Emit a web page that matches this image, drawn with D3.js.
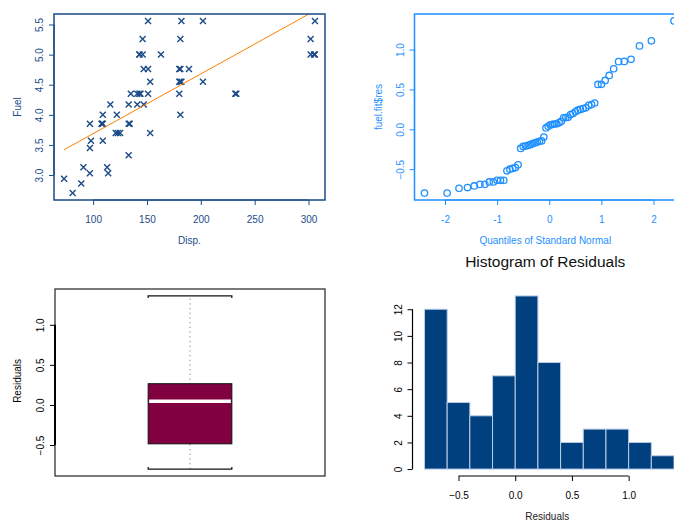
<!DOCTYPE html>
<html>
<head>
<meta charset="utf-8">
<script src="https://cdn.jsdelivr.net/npm/d3@7"></script>
<style>
  body { margin: 0; background: #fff; }
  svg { display: block; font-family: "Liberation Sans", Arial, sans-serif; }
</style>
</head>
<body>
<div id="chart"></div>
<script>
// fuel vs displacement
const disp = [73, 81, 89, 91, 97, 97, 98, 97, 108, 109, 109, 109, 113, 114, 116, 122, 121, 123, 125,
  133, 133, 134, 133, 135, 141, 143, 141, 147, 143, 146, 146, 147, 151, 151, 151, 153, 153, 163,
  180, 181, 180, 182, 180, 181, 181, 182, 189, 202, 202, 232, 233, 302, 302, 305, 306, 306,
  108, 144, 181, 143]
const fuel = [2.94, 2.70, 2.86, 3.13, 3.03, 3.45, 3.57, 3.85, 3.85, 3.85, 4.00, 3.57, 3.13, 3.03, 4.17, 4.00, 3.70, 3.70, 3.70,
  3.33, 3.85, 3.85, 4.17, 4.35, 4.35, 4.35, 4.17, 4.17, 5.00, 5.00, 5.26, 4.76, 4.76, 5.56, 4.35, 4.55, 3.70, 5.00,
  4.76, 4.76, 4.55, 4.55, 4.35, 4.00, 5.26, 5.56, 4.76, 5.56, 4.55, 4.35, 4.35, 5.26, 5.00, 5.00, 5.00, 5.56,
  3.85, 4.35, 4.55, 5.00]
// fitted line, endpoints at min / max Disp.
const fitX = [73, 306]
const fitY = [3.42, 5.73]

// residuals of the fit (sorted)
const residuals = [-0.80, -0.80, -0.74, -0.73, -0.71, -0.69, -0.69, -0.66, -0.66, -0.64, -0.64, -0.64,
  -0.52, -0.50, -0.49, -0.48, -0.445,
  -0.24, -0.215, -0.21, -0.202,
  -0.193, -0.18, -0.17, -0.16, -0.15, -0.145, -0.097,
  0.017, 0.038, 0.055, 0.063, 0.067, 0.07, 0.084, 0.10, 0.145, 0.147, 0.15, 0.185, 0.197,
  0.22, 0.24, 0.25, 0.26, 0.27, 0.30, 0.31, 0.33,
  0.563, 0.565,
  0.613, 0.676, 0.76,
  0.849, 0.852, 0.878,
  1.046, 1.11,
  1.36]

const scatterXTicks = [100, 150, 200, 250, 300]
const scatterYTicks = [3.0, 3.5, 4.0, 4.5, 5.0, 5.5]
const qqXTicks = [-2, -1, 0, 1, 2]
const resTicks = [-0.5, 0.0, 0.5, 1.0]
const histBreaks = [-0.8, -0.6, -0.4, -0.2, 0, 0.2, 0.4, 0.6, 0.8, 1.0, 1.2, 1.4]
const histYTicks = [0, 2, 4, 6, 8, 10, 12]

const width = 674, height = 521

const darkBlue = '#1b4b88'
const qqBlue = '#1e90ff'
const barBlue = '#00407f'

const svg = d3.select('#chart').append('svg')
  .attr('width', width)
  .attr('height', height)

// plot regions
const leftCol = {x0: 54, x1: 325}
const rightCol = {x0: 414.5, x1: 684}
const topRow = {y0: 14, y1: 200}
const botRow = {y0: 289, y1: 476}

// R pads the data range by 4% each side
const pad = ext => { const d = (ext[1] - ext[0]) * 0.04; return [ext[0] - d, ext[1] + d] }

const fmt1 = d3.format('.1f')

// R style axis: line only between first and last tick, rotated y labels
function rAxis(g, scale, ticks, side, color, format, lw) {
  const ax = (side == 'bottom' ? d3.axisBottom(scale) : d3.axisLeft(scale))
    .tickValues(ticks)
    .tickSize(5)
    .tickSizeOuter(0)
    .tickPadding(11)
    .tickFormat(format || (d => d))
  g.call(ax)
  g.selectAll('line').attr('stroke', color).attr('stroke-width', 1)
  g.select('.domain')
    .attr('stroke', color)
    .attr('stroke-width', lw || 1.2)
    .attr('d', side == 'bottom'
      ? `M${scale(ticks[0])},0H${scale(ticks[ticks.length - 1])}`
      : `M0,${scale(ticks[0])}V${scale(ticks[ticks.length - 1])}`)
  g.selectAll('text')
    .attr('fill', color)
    .style('font-size', '10px')
    .style('font-family', '"Liberation Sans", Arial, sans-serif')
  if (side == 'left') {
    g.selectAll('text')
      .attr('x', null).attr('dy', null)
      .attr('transform', 'translate(-11,0) rotate(-90)')
      .style('text-anchor', 'middle')
  }
}

function label(text, x, y, color, rotate) {
  svg.append('text')
    .attr('transform', `translate(${x},${y})` + (rotate ? ' rotate(-90)' : ''))
    .attr('text-anchor', 'middle')
    .attr('fill', color)
    .style('font-size', '10px')
    .text(text)
}

function frame(r, c, color, w) {
  svg.append('rect')
    .attr('x', r.x0).attr('y', c.y0)
    .attr('width', r.x1 - r.x0).attr('height', c.y1 - c.y0)
    .attr('fill', 'none')
    .attr('stroke', color)
    .attr('stroke-width', w)
}

// ---------- scatter Fuel ~ Disp.
const x1 = d3.scaleLinear().domain(pad(d3.extent(disp))).range([leftCol.x0, leftCol.x1])
const y1 = d3.scaleLinear().domain(pad(d3.extent(fuel))).range([topRow.y1, topRow.y0])

const clip = svg.append('clipPath').attr('id', 'clip1')
clip.append('rect').attr('x', leftCol.x0).attr('y', topRow.y0)
  .attr('width', leftCol.x1 - leftCol.x0).attr('height', topRow.y1 - topRow.y0)

svg.append('g')
  .selectAll('path')
  .data(disp)
  .enter().append('path')
  .attr('transform', (d, i) => `translate(${x1(d)},${y1(fuel[i])})`)
  .attr('d', 'M-3,-3L3,3M-3,3L3,-3')
  .attr('stroke', darkBlue)
  .attr('stroke-width', 1.4)

svg.append('line')
  .attr('clip-path', 'url(#clip1)')
  .attr('x1', x1(fitX[0])).attr('y1', y1(fitY[0]))
  .attr('x2', x1(fitX[1])).attr('y2', y1(fitY[1]))
  .attr('stroke', '#ff8000')
  .attr('stroke-width', 1)

frame(leftCol, topRow, darkBlue, 1.5)
rAxis(svg.append('g').attr('transform', `translate(0,${topRow.y1})`), x1, scatterXTicks, 'bottom', darkBlue)
rAxis(svg.append('g').attr('transform', `translate(${leftCol.x0},0)`), y1, scatterYTicks, 'left', darkBlue, fmt1)
label('Disp.', (leftCol.x0 + leftCol.x1) / 2, 244, darkBlue)
label('Fuel', 21, (topRow.y0 + topRow.y1) / 2, darkBlue, true)

// ---------- normal QQ plot of residuals
// inverse normal (Acklam), for qqnorm's theoretical quantiles
function qnorm(p) {
  const a = [-39.69683028665376, 220.9460984245205, -275.9285104469687, 138.3577518672690, -30.66479806614716, 2.506628277459239]
  const b = [-54.47609879822406, 161.5858368580409, -155.6989798598866, 66.80131188771972, -13.28068155288572]
  const c = [-0.007784894002430293, -0.3223964580411365, -2.400758277161838, -2.549732539343734, 4.374664141464968, 2.938163982698783]
  const dd = [0.007784695709041462, 0.3224671290700398, 2.445134137142996, 3.754408661907416]
  const pl = 0.02425
  let q, r
  if (p < pl) {
    q = Math.sqrt(-2 * Math.log(p))
    return (((((c[0] * q + c[1]) * q + c[2]) * q + c[3]) * q + c[4]) * q + c[5]) / ((((dd[0] * q + dd[1]) * q + dd[2]) * q + dd[3]) * q + 1)
  }
  if (p > 1 - pl) return -qnorm(1 - p)
  q = p - 0.5; r = q * q
  return (((((a[0] * r + a[1]) * r + a[2]) * r + a[3]) * r + a[4]) * r + a[5]) * q / (((((b[0] * r + b[1]) * r + b[2]) * r + b[3]) * r + b[4]) * r + 1)
}
const sorted = residuals.slice().sort(d3.ascending)
const n = sorted.length
const theo = sorted.map((d, i) => qnorm((i + 1 - 0.5) / n))

const x2 = d3.scaleLinear().domain(pad(d3.extent(theo))).range([rightCol.x0, rightCol.x1])
const y2 = d3.scaleLinear().domain(pad(d3.extent(sorted))).range([topRow.y1, topRow.y0])

svg.append('g')
  .selectAll('circle')
  .data(sorted)
  .enter().append('circle')
  .attr('cx', (d, i) => x2(theo[i]))
  .attr('cy', d => y2(d))
  .attr('r', 3.2)
  .attr('fill', 'none')
  .attr('stroke', qqBlue)
  .attr('stroke-width', 1.3)

frame(rightCol, topRow, qqBlue, 1.5)
rAxis(svg.append('g').attr('transform', `translate(0,${topRow.y1})`), x2, qqXTicks, 'bottom', qqBlue)
rAxis(svg.append('g').attr('transform', `translate(${rightCol.x0},0)`), y2, resTicks, 'left', qqBlue, fmt1)
label('Quantiles of Standard Normal', (rightCol.x0 + rightCol.x1) / 2 - 4, 244, qqBlue)
label('fuel.fit$res', 382, (topRow.y0 + topRow.y1) / 2, qqBlue, true)

// ---------- boxplot of residuals
const y3 = d3.scaleLinear().domain(pad(d3.extent(sorted))).range([botRow.y1, botRow.y0])
const x3 = d3.scaleLinear().domain([0.5, 1.5]).range([55, leftCol.x1])

// Tukey five number summary, as R's boxplot
const half = Math.ceil(n / 2)
const five = [sorted[0], d3.median(sorted.slice(0, half)), d3.median(sorted), d3.median(sorted.slice(n - half)), sorted[n - 1]]
const bw = 0.155

const bx = svg.append('g')
bx.append('line')
  .attr('x1', x3(1)).attr('x2', x3(1))
  .attr('y1', y3(five[0])).attr('y2', y3(five[4]))
  .attr('stroke', '#888')
  .attr('stroke-width', 1)
  .attr('stroke-dasharray', '1.3,3.4')
bx.append('rect')
  .attr('x', x3(1 - bw)).attr('width', x3(1 + bw) - x3(1 - bw))
  .attr('y', y3(five[3])).attr('height', y3(five[1]) - y3(five[3]))
  .attr('fill', '#800040')
  .attr('stroke', '#111')
  .attr('stroke-width', 1)
bx.append('line')
  .attr('x1', x3(1 - bw) + 1).attr('x2', x3(1 + bw) - 1)
  .attr('y1', y3(five[2])).attr('y2', y3(five[2]))
  .attr('stroke', '#fff')
  .attr('stroke-width', 3.5)
bx.selectAll('.cap')
  .data([five[0], five[4]])
  .enter().append('path')
  .attr('class', 'cap')
  .attr('d', (d, i) => {
    const e = i == 0 ? -2 : 2
    return `M${x3(1 - bw)},${y3(d) + e}V${y3(d)}H${x3(1 + bw)}V${y3(d) + e}`
  })
  .attr('fill', 'none')
  .attr('stroke', '#111')
  .attr('stroke-width', 1.2)

frame({x0: 55, x1: leftCol.x1}, botRow, '#333', 1.3)
rAxis(svg.append('g').attr('transform', `translate(55,0)`), y3, resTicks, 'left', '#000', fmt1, 2)
label('Residuals', 21, y3(0.3), '#000', true)

// ---------- histogram of residuals
const bins = d3.bin().domain([histBreaks[0], histBreaks[histBreaks.length - 1]]).thresholds(histBreaks)(sorted)
const x4 = d3.scaleLinear().domain(pad([histBreaks[0], histBreaks[histBreaks.length - 1]])).range([rightCol.x0, rightCol.x1])
const y4 = d3.scaleLinear().domain(pad([0, d3.max(bins, d => d.length)])).range([botRow.y1, botRow.y0])

svg.append('g')
  .selectAll('rect')
  .data(bins)
  .enter().append('rect')
  .attr('x', d => x4(d.x0))
  .attr('width', d => x4(d.x1) - x4(d.x0))
  .attr('y', d => y4(d.length))
  .attr('height', d => y4(0) - y4(d.length))
  .attr('fill', barBlue)
  .attr('stroke', '#b9cde6')
  .attr('stroke-width', 1)

rAxis(svg.append('g').attr('transform', `translate(0,${botRow.y1})`), x4, resTicks, 'bottom', '#000', fmt1)
rAxis(svg.append('g').attr('transform', `translate(${rightCol.x0 - 2},0)`), y4, histYTicks, 'left', '#000')
label('Residuals', (rightCol.x0 + rightCol.x1) / 2 - 2, 520, '#222')

svg.append('text')
  .attr('x', (rightCol.x0 + rightCol.x1) / 2 - 4)
  .attr('y', 267)
  .attr('text-anchor', 'middle')
  .attr('fill', '#111')
  .style('font-size', '15.5px')
  .text('Histogram of Residuals')
</script>
</body>
</html>
